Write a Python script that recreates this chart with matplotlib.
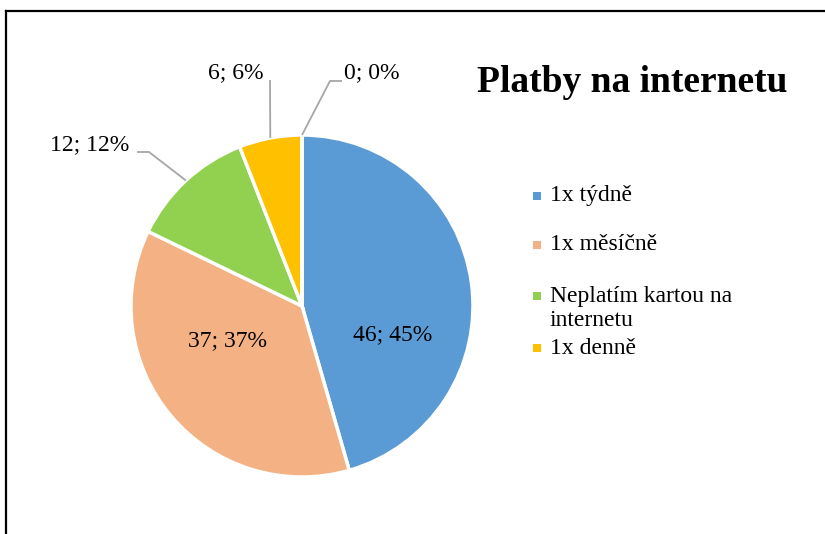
import numpy as np
import matplotlib.pyplot as plt
from matplotlib.patches import Rectangle

# data
categories = ["1x týdně", "1x měsíčně", "Neplatím kartou na\ninternetu", "1x denně", ""]
values = [46, 37, 12, 6, 0]
percents = [45, 37, 12, 6, 0]
colors = ["#5B9BD5", "#F4B183", "#92D050", "#FFC000", "#A5A5A5"]

W, H = 825, 534
plt.rcParams['font.family'] = ['Liberation Serif', 'DejaVu Serif']

fig = plt.figure(figsize=(W / 100, H / 100), dpi=100)
ax = fig.add_axes([0, 0, 1, 1])

# pie geometry in pixel units (y up)
cx, cy, r = 302, H - 306, 171
ax.pie(values, colors=colors, startangle=90, counterclock=False,
       center=(cx, cy), radius=r,
       wedgeprops=dict(edgecolor="white", linewidth=2.5))
ax.set_xlim(0, W)
ax.set_ylim(0, H)
ax.set_aspect("auto")
ax.axis("off")

# label placement (pixel coords, top-left origin)
label_pos = [(393, 335), (228, 341), (90, 145), (236, 73), (372, 73)]
leader_elbow = [None, None, (149, 152), (270, 80), (330, 81)]
leader_end = [None, None, (137, 152), (270, 80), (342, 81)]

total = sum(values)
cum = np.cumsum([0] + values)
for i, v in enumerate(values):
    txt = f"{v}; {percents[i]}%"
    lx, ly = label_pos[i]
    ax.text(lx, H - ly, txt, ha="center", va="center", fontsize=17)
    if leader_elbow[i] is not None:
        mid = (cum[i] + cum[i + 1]) / 2 / total * 360
        th = np.deg2rad(90 - mid)
        px, py = cx + r * np.cos(th), cy + r * np.sin(th)
        ex, ey = leader_elbow[i]
        tx, ty = leader_end[i]
        ax.plot([px, ex, tx], [py, H - ey, H - ty], color="#A6A6A6", lw=1.3,
                solid_capstyle="butt")

# title
ax.text(632, H - 82, "Platby na internetu", ha="center", va="center",
        fontsize=27, fontweight="bold")

# legend
leg_y = [196, 245, 308.5, 348]
leg_marker_y = [196, 245, 296, 348]
for i in range(4):
    ax.add_patch(Rectangle((533, H - leg_marker_y[i] - 4), 8, 8,
                           facecolor=colors[i], edgecolor="none"))
    ax.text(550, H - leg_y[i], categories[i], ha="left", va="center",
            fontsize=17, linespacing=1.2)

# chart frame (left and top edges visible)
ax.plot([5.5, 5.5], [0, H - 10.5], color="black", lw=1.6, solid_capstyle="projecting")
ax.plot([5.5, W], [H - 10.5, H - 10.5], color="black", lw=1.6, solid_capstyle="projecting")

fig.savefig("out.png", dpi=100, facecolor="white")
